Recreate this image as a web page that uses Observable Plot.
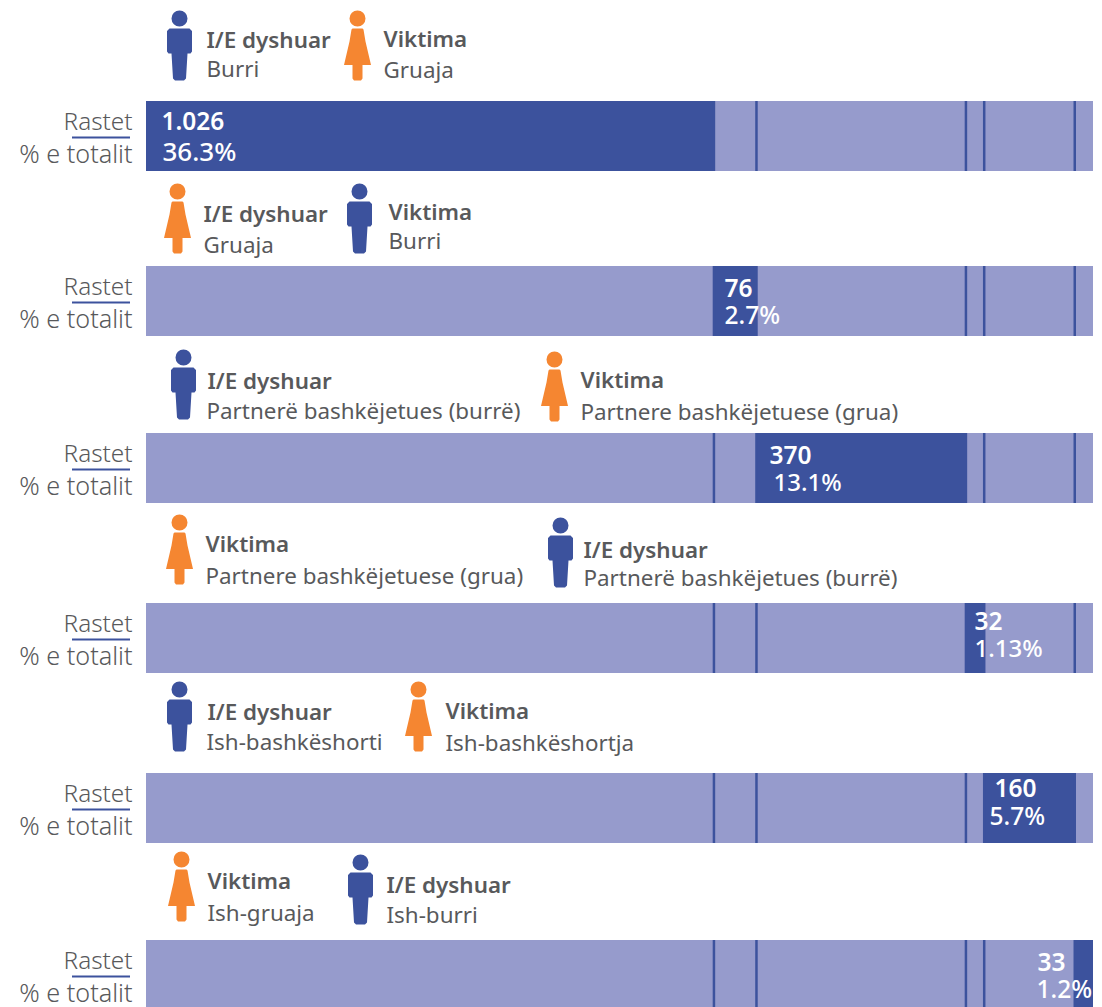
<!DOCTYPE html>
<html>
<head>
<meta charset="utf-8">
<style>html,body{margin:0;padding:0;background:#fff;overflow:hidden}</style>
<script src="https://cdn.jsdelivr.net/npm/d3@7"></script>
<script src="https://cdn.jsdelivr.net/npm/@observablehq/plot@0.6"></script>
</head>
<body>
<div id="chart"></div>
<script>
const caseLabels = ["1.026", "76", "370", "32", "160", "33"];
const percentLabels = ["36.3%", "2.7%", "13.1%", "1.13%", "5.7%", "1.2%"];
const percentSizes = [26, 24.5, 24, 24, 24.5, 24.5];
const segmentShares = [36.03, 2.70, 13.30, 1.16, 5.75, 1.19];
const rowTops = [101, 266, 433, 603, 773, 940];
const rowHeight = 70;

const legendRoles = ["I/E dyshuar","Viktima","I/E dyshuar","Viktima","I/E dyshuar","Viktima","Viktima","I/E dyshuar","I/E dyshuar","Viktima","Viktima","I/E dyshuar"];
const legendNames = ["Burri","Gruaja","Gruaja","Burri","Partnerë bashkëjetues (burrë)","Partnere bashkëjetuese (grua)","Partnere bashkëjetuese (grua)","Partnerë bashkëjetues (burrë)","Ish-bashkëshorti","Ish-bashkëshortja","Ish-gruaja","Ish-burri"];
const legendSex = ["m","f","f","m","m","f","f","m","m","f","f","m"];
const iconCx = [179,357,177,359,183,554,179,560,179,418,181,360];
const iconTop = [10,10,183,183,349,351,514,517,681,681,851,854];
const roleX = [206,383,203,388,207,580,205,583,207,445,207,386];
const roleBase = [47,46,221,219,388,387,551,557,719,718,888,892];
const nameX = [206,383,203,388,206,580,205,583,206,445,207,386];
const nameBase = [76,77,252,248,418,419,583,585,749,750,920,922];

const valueX = [161,724,769,974,994,1037];
const valueBase = [129,296,463,629,796,970];
const pctX = [162,724,773,974,989,1036];
const pctBase = [160,323,490,656,824,997];

const dark = "#3c529d", light = "#969bcc", orange = "#f58631", grey = "#58595b";
const px = (f) => ({value: f, scale: null});

const cells = rowTops.flatMap((top, r) => segmentShares.map((share, s) => ({top, share, hit: r === s})));
const cum = Array.from(d3.cumsum(segmentShares));
const dividers = rowTops.flatMap((top) => cum.slice(0, -1).map((at) => ({top, at})));
const legend = legendRoles.map((role, i) => ({role, name: legendNames[i], sex: legendSex[i], cx: iconCx[i], top: iconTop[i], rx: roleX[i], rb: roleBase[i], nx: nameX[i], nb: nameBase[i]}));

function person(female) {
  return {
    draw(c, size) {
      const k = Math.sqrt(size / Math.PI) / 35;
      const P = (pts) => { pts.forEach(([x, y], i) => i ? c.lineTo(x * k, y * k) : c.moveTo(x * k, y * k)); c.closePath(); };
      c.moveTo(8 * k, -27 * k);
      c.arc(0, -27 * k, 8 * k, 0, 2 * Math.PI);
      c.closePath();
      if (female) {
        P([[-6,-16],[-5,-17],[5,-17],[6,-16],[8,-4],[13.5,19.5],[5,19.5],[5,33],[3.5,35],[-3.5,35],[-5,33],[-5,19.5],[-13.5,19.5],[-8,-4]]);
      } else {
        P([[-10,-17],[10,-17],[12.5,-14.5],[12.5,6],[11,8],[8,8],[6.5,33],[4.5,35],[-4.5,35],[-6.5,33],[-8,8],[-11,8],[-12.5,6],[-12.5,-14.5]]);
      }
    }
  };
}

const text = (data, o) => Plot.text(data, {textAnchor: "start", lineAnchor: "bottom", fontSize: 22.4, ...o});

const chart = Plot.plot({
  width: 1102,
  height: 1007,
  margin: 0,
  style: {fontFamily: "'Noto Sans', sans-serif", background: "#fff"},
  x: {domain: [0, d3.sum(segmentShares)], range: [146, 1093], axis: null},
  y: {domain: [0, 1007], range: [0, 1007], axis: null},
  marks: [
    Plot.rectX(cells, {x: "share", y1: "top", y2: (d) => d.top + rowHeight, fill: (d) => d.hit ? dark : light, inset: 0, order: null}),
    Plot.ruleX(dividers, {x: "at", y1: "top", y2: (d) => d.top + rowHeight, stroke: dark, strokeWidth: 2.5}),
    Plot.text(rowTops, {x: px(() => 132), y: (d) => d + 28, text: () => "Rastet", textAnchor: "end", lineAnchor: "bottom", fontSize: 24.3, fontWeight: 300, fill: grey}),
    Plot.ruleY(rowTops, {x1: px(() => 72), x2: px(() => 130), y: (d) => d + 36, stroke: dark, strokeWidth: 2}),
    Plot.text(rowTops, {x: px(() => 132), y: (d) => d + 61, text: () => "% e totalit", textAnchor: "end", lineAnchor: "bottom", fontSize: 25.2, fontWeight: 300, fill: grey}),
    Plot.dot(legend.filter((d) => d.sex === "m"), {x: px((d) => d.cx), y: (d) => d.top + 35, r: 35, fill: dark, stroke: "none", symbol: person(false)}),
    Plot.dot(legend.filter((d) => d.sex === "f"), {x: px((d) => d.cx), y: (d) => d.top + 35, r: 35, fill: orange, stroke: "none", symbol: person(true)}),
    text(legend, {x: px((d) => d.rx), y: "rb", text: "role", fontWeight: 600, fill: grey}),
    text(legend, {x: px((d) => d.nx), y: "nb", text: "name", fill: grey}),
    text(caseLabels, {x: px((d, i) => valueX[i]), y: (d, i) => valueBase[i], text: (d) => d, fontSize: 24.5, fontWeight: 600, fill: "#fff"}),
    ...percentLabels.map((label, i) => text([label], {x: px(() => pctX[i]), y: () => pctBase[i], text: (d) => d, fontSize: percentSizes[i], fontWeight: 500, fill: "#fff"}))
  ]
});
document.getElementById("chart").append(chart);
</script>
</body>
</html>
